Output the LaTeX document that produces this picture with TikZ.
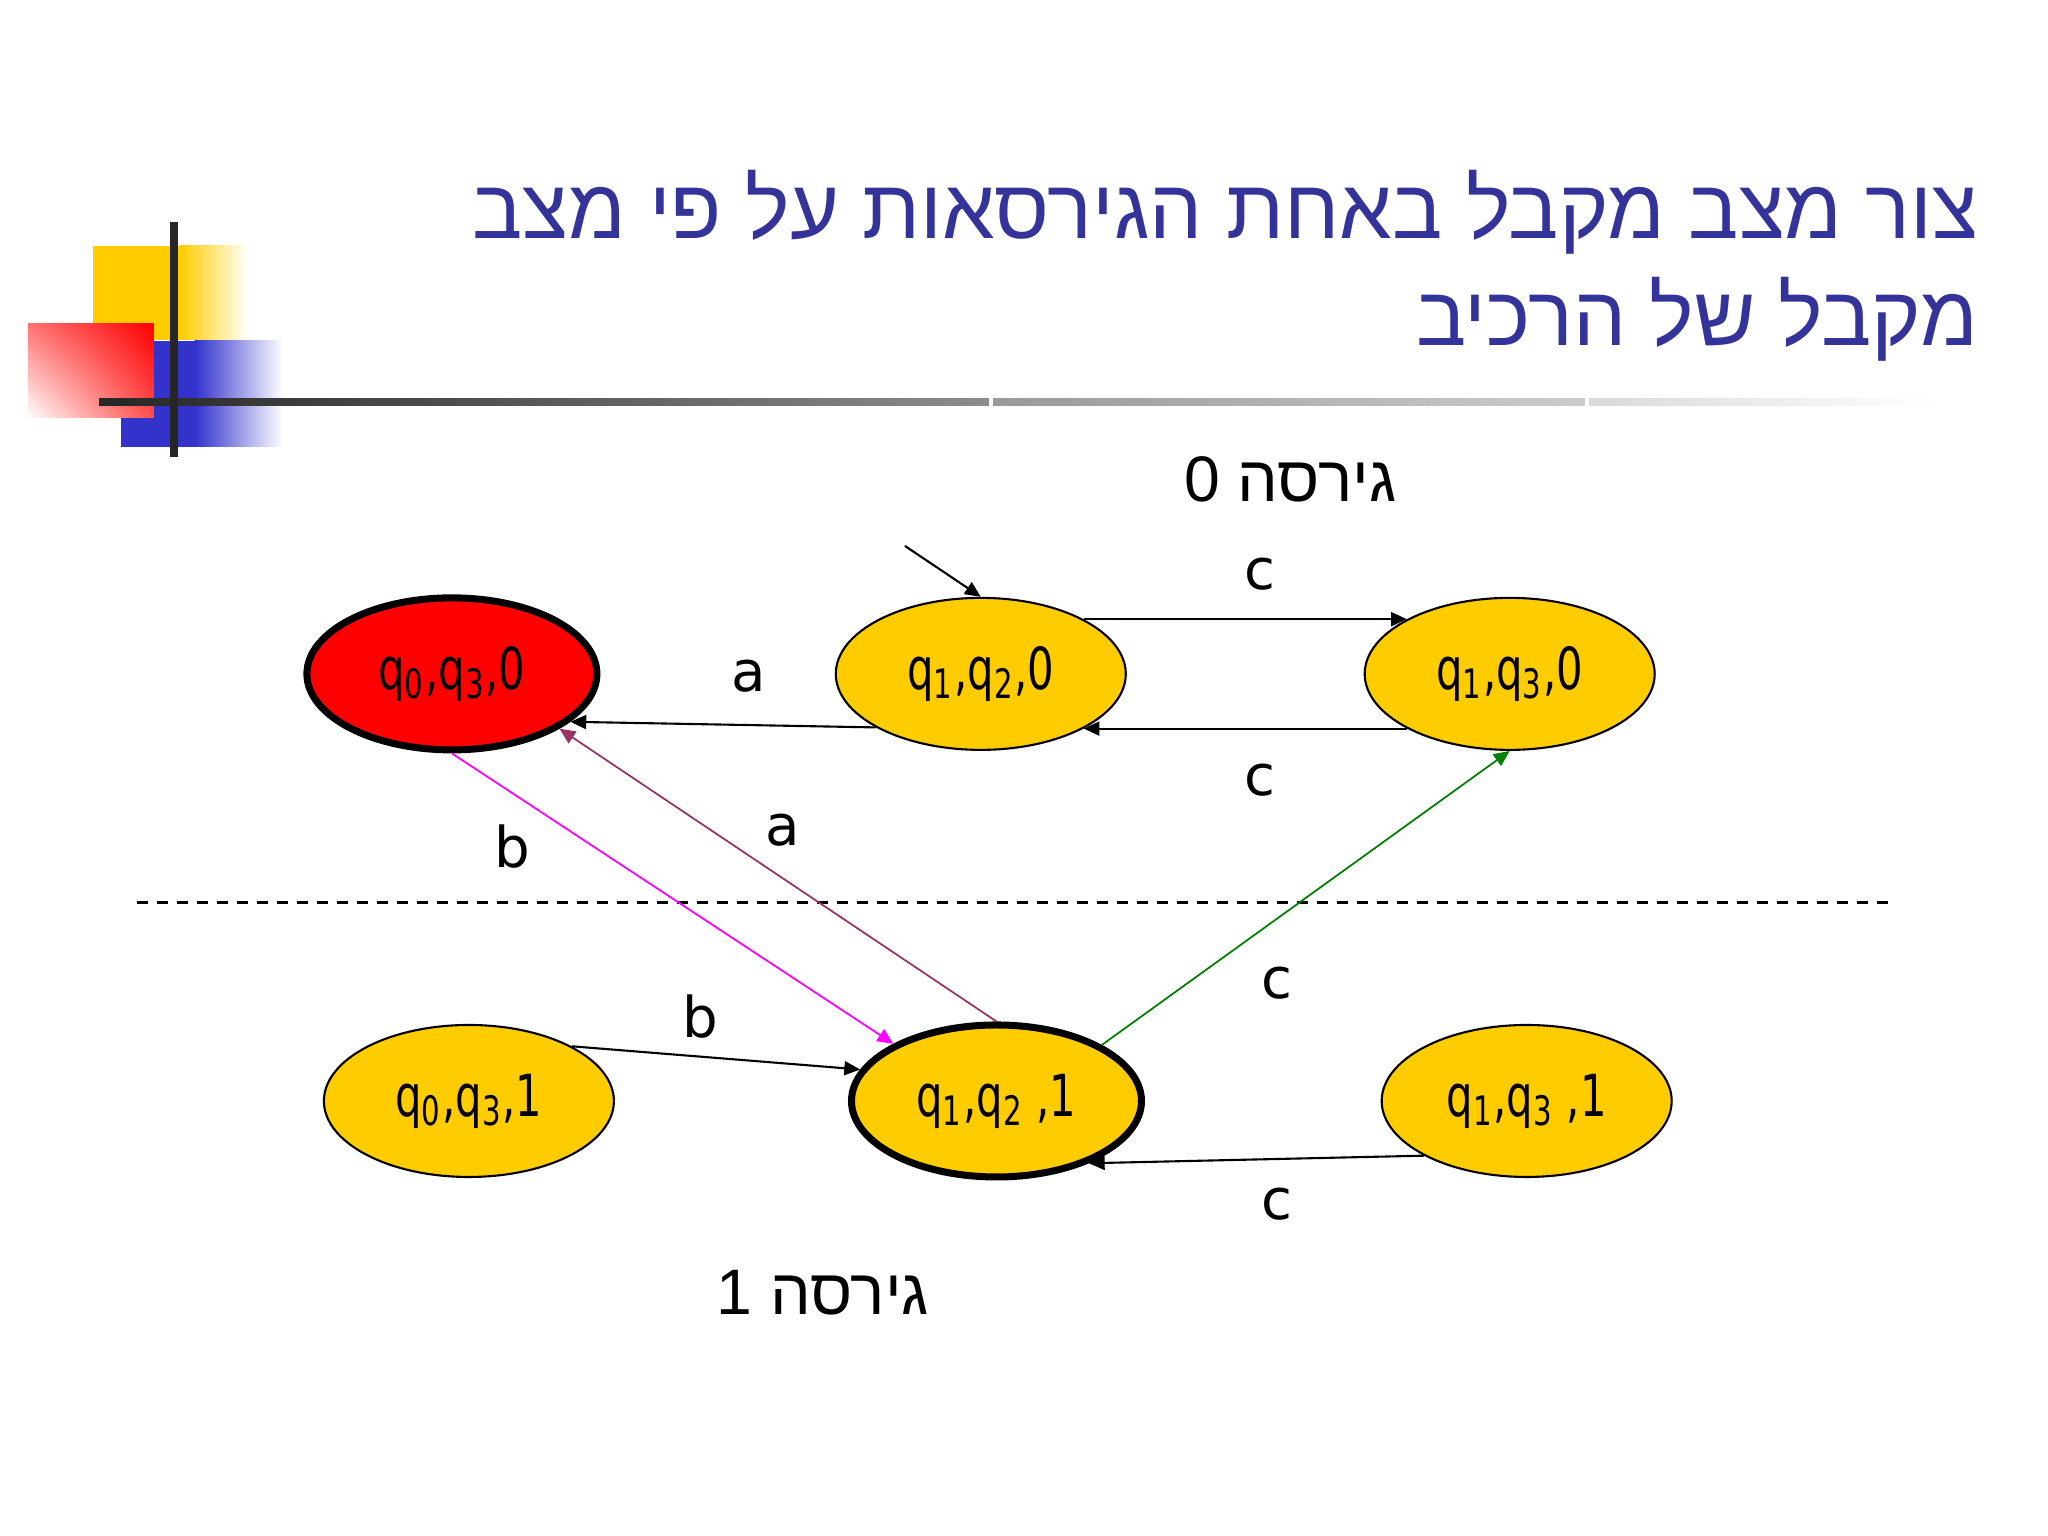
\documentclass[tikz,border=0pt]{standalone}
\usepackage{fontspec}
\setmainfont{DejaVu Sans}
\newfontfamily\hebfont[Script=Hebrew]{Liberation Sans}
\newfontfamily\stfont[FakeStretch=0.72]{DejaVu Sans}
\TeXXeTstate=1
\usetikzlibrary{shapes.geometric,arrows.meta,shadings}
\definecolor{stateyellow}{HTML}{FFCC00}
\definecolor{titleblue}{HTML}{333399}
\definecolor{decoblue}{HTML}{3333CC}
\definecolor{edgebrown}{HTML}{993366}
\definecolor{edgegreen}{HTML}{008000}
\definecolor{edgemagenta}{HTML}{FF00FF}
\tikzstyle{st}=[ellipse,draw=black,fill=stateyellow,line width=.6pt,minimum width=2.9cm,minimum height=1.52cm,inner sep=0pt,font=\stfont\fontsize{16.5}{18}\selectfont]
\tikzstyle{acc}=[st,line width=2pt]
\tikzstyle{lbl}=[font=\fontsize{16}{18}\selectfont]
\tikzstyle{ver}=[font=\hebfont\fontsize{18.3}{20}\selectfont]
\tikzstyle{ttl}=[anchor=base east,inner sep=0pt,text=titleblue,font=\hebfont\fontsize{23.9}{26}\selectfont]
\tikzstyle{tr}=[-{Triangle[length=4.5pt,width=4pt]},line width=.6pt]

\begin{document}
\begin{tikzpicture}
\useasboundingbox[fill=white] (0,0) rectangle (20.48,15.36);
% decoration
\fill[stateyellow] (0.93,11.96) rectangle (1.80,12.90);
\shade[left color=stateyellow,right color=white] (1.80,11.96) rectangle (2.48,12.90);
\fill[decoblue] (1.21,10.89) rectangle (1.95,11.95);
\shade[left color=decoblue,right color=white] (1.95,10.89) rectangle (2.83,11.95);
\shade[upper right=red,upper left=red!55,lower left=white,lower right=red!70] (0.28,11.18) rectangle (1.54,12.12);
\shade[left color=black!85,right color=black!45] (0.99,11.30) rectangle (9.89,11.37);
\shade[left color=black!40,right color=black!20] (9.93,11.30) rectangle (15.85,11.37);
\shade[left color=black!15,right color=white] (15.89,11.30) rectangle (19.33,11.37);
\draw[black!85,line width=2pt] (1.74,10.79) -- (1.74,13.14);
% title
\node[ttl] (title1) at (19.79,12.97) {\beginR צור מצב מקבל באחת הגירסאות על פי מצב\endR};
\node[ttl] (title2) at (19.79,11.90) {\beginR מקבל של הרכיב\endR};
% states
\node[acc,fill=red] (q03a) at (4.519,8.621) {q\textsubscript{0},q\textsubscript{3},0};
\node[st] (q12a) at (9.808,8.621) {q\textsubscript{1},q\textsubscript{2},0};
\node[st] (q13a) at (15.097,8.621) {q\textsubscript{1},q\textsubscript{3},0};
\node[st] (q03b) at (4.689,4.350) {q\textsubscript{0},q\textsubscript{3},1};
\node[acc] (q12b) at (9.965,4.350) {q\textsubscript{1},q\textsubscript{2} ,1};
\node[st] (q13b) at (15.267,4.350) {q\textsubscript{1},q\textsubscript{3} ,1};
\coordinate (start) at (9.05,9.90);
% version labels
\node[ver] (v0) at (12.903,10.567) {\beginR גירסה 0\endR};
\node[ver] (v1) at (8.228,2.431) {\beginR גירסה 1\endR};
\draw[line width=1pt,dash pattern=on 0.11cm off 0.09cm] (1.371,6.336) -- (18.95,6.336);
% transitions
\draw[tr] (start) -- (q12a.north);
\draw[tr] (q12a.28) -- (q13a.152);
\draw[tr] (q13a.208) -- (q12a.332);
\draw[tr] (q12a.207) -- (q03a.338);
\draw[tr,edgemagenta,line width=.5pt] (q03a.270) -- (q12b.151);
\draw[tr,edgebrown,line width=.5pt] (q12b.90) -- (q03a.333);
\draw[tr,edgegreen,line width=.5pt] (q12b.28) -- (q13a.270);
\draw[tr] (q03b.28) -- (q12b.167);
\draw[tr] (q13b.208) -- (q12b.326);
% edge labels
\node[lbl] (lc1) at (12.603,9.614) {c};
\node[lbl] (la1) at (7.483,8.595) {a};
\node[lbl] (lc2) at (12.603,7.563) {c};
\node[lbl] (la2) at (7.823,7.054) {a};
\node[lbl] (lb1) at (5.119,6.897) {b};
\node[lbl] (lc3) at (12.773,5.526) {c};
\node[lbl] (lb2) at (7.000,5.199) {b};
\node[lbl] (lc4) at (12.773,3.319) {c};
\end{tikzpicture}
\end{document}
